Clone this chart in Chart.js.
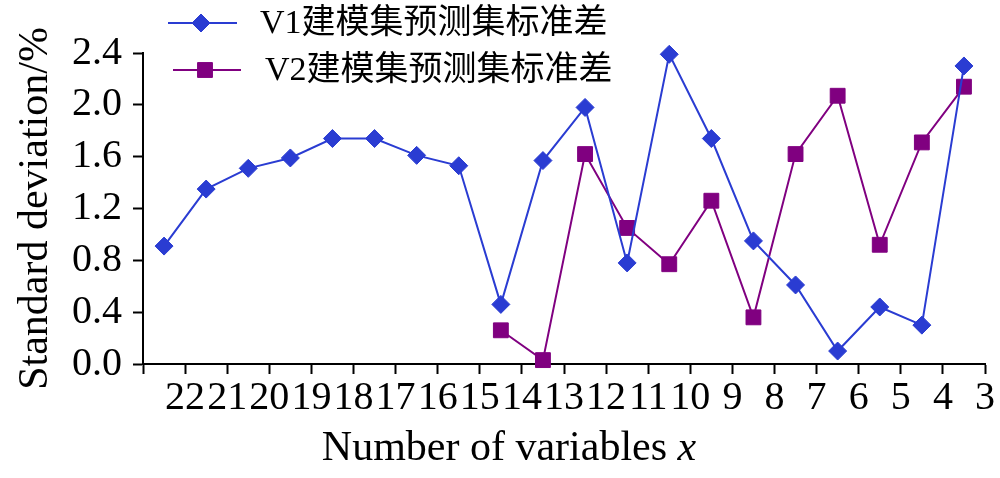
<!DOCTYPE html>
<html>
<head>
<meta charset="utf-8">
<script src="https://cdn.jsdelivr.net/npm/chart.js@4/dist/chart.umd.min.js"></script>
<style>
  body { margin: 0; background: #fff; }
  #wrap { width: 1000px; height: 478px; }
</style>
</head>
<body>
<div id="wrap"><canvas id="chart" width="1000" height="478"></canvas></div>
<script>
// tick labels under the x axis (one per category, sitting on the right-hand tick)
const xLabels = ["22", "21", "20", "19", "18", "17", "16", "15", "14", "13", "12", "11", "10", "9", "8", "7", "6", "5", "4", "3"]
const seriesNames = ["V1建模集预测集标准差", "V2建模集预测集标准差"]
const v1Values = [0.91, 1.35, 1.51, 1.59, 1.74, 1.74, 1.61, 1.53, 0.46, 1.57, 1.98, 0.78, 2.39, 1.74, 0.95, 0.61, 0.10, 0.44, 0.30, 2.30]
const v2Values = [null, null, null, null, null, null, null, null, 0.26, 0.03, 1.62, 1.05, 0.77, 1.26, 0.36, 1.62, 2.07, 0.92, 1.71, 2.14]
const yTicks = [0, 0.4, 0.8, 1.2, 1.6, 2.0, 2.4]

const blue = "rgb(42, 60, 210)"
const purple = "rgb(128, 0, 128)"
const serif = "'Liberation Serif', 'Times New Roman', serif"

// points sit in the middle of each category slot
const toPoints = (vals) => vals.map((v, i) => ({ x: i + 0.5, y: v }))

const overlay = {
  id: "overlay",
  afterDraw(chart) {
    const ctx = chart.ctx
    ctx.save()
    // legend drawn over the plot, top left
    const rows = [
      { y: 23, x0: 168, x1: 237, mx: 201, tx: 260, color: blue, style: "rectRot", r: 9 },
      { y: 70, x0: 173, x1: 241, mx: 205, tx: 265, color: purple, style: "rect", r: 10.5 }
    ]
    rows.forEach((row, i) => {
      ctx.strokeStyle = row.color
      ctx.fillStyle = row.color
      ctx.lineWidth = 2
      ctx.beginPath()
      ctx.moveTo(row.x0, row.y)
      ctx.lineTo(row.x1, row.y)
      ctx.stroke()
      ctx.lineWidth = 1
      Chart.helpers.drawPoint(ctx, { pointStyle: row.style, radius: row.r, rotation: 0, borderWidth: 1 }, row.mx, row.y)
      ctx.fillStyle = "#000"
      ctx.font = "34px " + serif + ", 'Noto Sans CJK SC'"
      ctx.textBaseline = "middle"
      ctx.textAlign = "left"
      ctx.fillText(seriesNames[i], row.tx, row.y + 1)
    })

    // x axis title with italic x
    const main = "Number of variables "
    ctx.font = "42px " + serif
    const w1 = ctx.measureText(main).width
    ctx.font = "italic 42px " + serif
    const w2 = ctx.measureText("x").width
    const start = 509 - (w1 + w2) / 2
    ctx.fillStyle = "#000"
    ctx.textBaseline = "middle"
    ctx.font = "42px " + serif
    ctx.fillText(main, start, 449)
    ctx.font = "italic 42px " + serif
    ctx.fillText("x", start + w1, 449)
    ctx.restore()
  }
}

new Chart(document.getElementById("chart"), {
  type: "line",
  data: {
    datasets: [
      {
        label: seriesNames[0],
        data: toPoints(v1Values),
        borderColor: blue,
        backgroundColor: blue,
        borderWidth: 2,
        pointStyle: "rectRot",
        pointRadius: 9,
        pointBorderWidth: 1,
        clip: false
      },
      {
        label: seriesNames[1],
        data: toPoints(v2Values),
        borderColor: purple,
        backgroundColor: purple,
        borderWidth: 2,
        pointStyle: "rect",
        pointRadius: 10.5,
        pointBorderWidth: 1,
        clip: false
      }
    ]
  },
  options: {
    responsive: false,
    animation: false,
    devicePixelRatio: 1,
    layout: { padding: { top: 53, right: 15, left: 0, bottom: 0 } },
    plugins: {
      legend: { display: false },
      tooltip: { enabled: false }
    },
    scales: {
      x: {
        type: "linear",
        min: 0,
        max: xLabels.length,
        afterFit: (scale) => { scale.height = 114 },
        grid: { drawOnChartArea: false, drawTicks: true, tickLength: 10, tickWidth: 2, tickColor: "#000" },
        border: { color: "#000", width: 2 },
        ticks: {
          stepSize: 1,
          autoSkip: false,
          maxRotation: 0,
          padding: 0,
          color: "#000",
          font: { family: serif, size: 40 },
          callback: (v) => {
            const k = Math.round(v)
            return k === 0 ? "" : xLabels[k - 1]
          }
        }
      },
      y: {
        min: yTicks[0],
        max: yTicks[yTicks.length - 1],
        afterFit: (scale) => { scale.width = 143 },
        afterBuildTicks: (scale) => { scale.ticks = yTicks.map((v) => ({ value: v })) },
        grid: { drawOnChartArea: false, drawTicks: true, tickLength: 10, tickWidth: 2, tickColor: "#000" },
        border: { color: "#000", width: 2 },
        ticks: {
          padding: 11,
          color: "#000",
          font: { family: serif, size: 40 },
          callback: (v) => Number(v).toFixed(1)
        },
        title: {
          display: true,
          text: "Standard deviation/%",
          color: "#000",
          font: { family: serif, size: 42 },
          padding: { top: 11, bottom: 0 }
        }
      }
    }
  },
  plugins: [overlay]
})
</script>
</body>
</html>
